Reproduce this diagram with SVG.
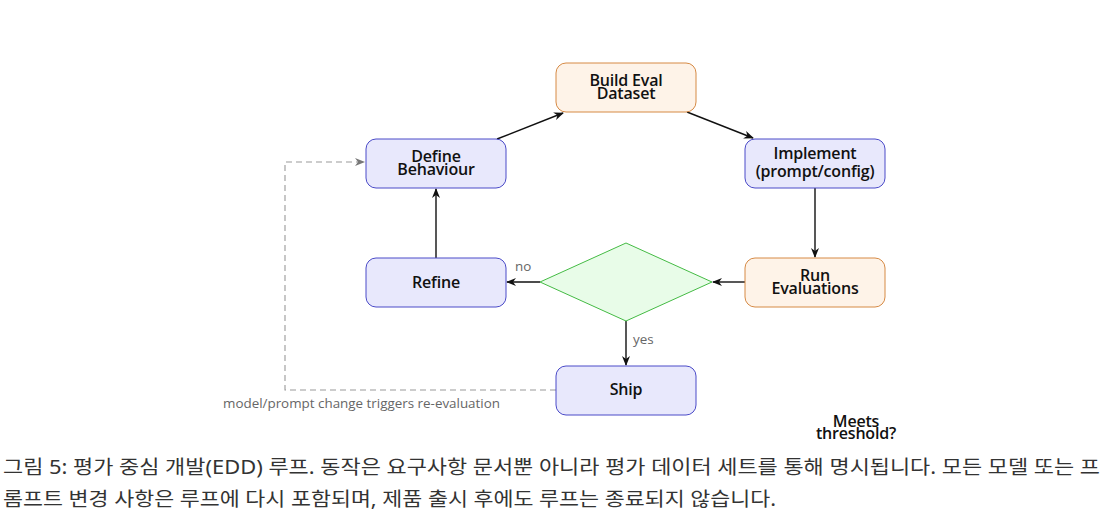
<svg xmlns="http://www.w3.org/2000/svg" width="1107" height="518" viewBox="0 0 1107 518">
<defs>
<style>
.blue{fill:#e8e8fc;stroke:#4a4ac8;stroke-width:1}
.orange{fill:#fef3e8;stroke:#d68a45;stroke-width:1}
.lbl{font-family:"Open Sans","Noto Sans",sans-serif;font-size:16px;font-weight:600;fill:#111;text-anchor:middle;letter-spacing:-0.2px}
.edge{stroke:#111;stroke-width:1.4;fill:none;marker-end:url(#arr)}
.elbl{font-family:"Open Sans","Noto Sans",sans-serif;font-size:13.4px;fill:#666}
.cap{font-family:"Noto Sans","Noto Sans CJK KR",sans-serif;font-size:19.5px;fill:#333}
</style>
<marker id="arr" markerWidth="10" markerHeight="8" refX="9" refY="4" orient="auto" markerUnits="userSpaceOnUse">
<path d="M0,0 L10,4 L0,8 L3,4 z" fill="#111"/>
</marker>
<marker id="arrg" markerWidth="10" markerHeight="8" refX="9" refY="4" orient="auto" markerUnits="userSpaceOnUse">
<path d="M0,0 L10,4 L0,8 L3,4 z" fill="#777"/>
</marker>
</defs>
<rect width="1107" height="518" fill="#fff"/>
<g id="connectors">
<path class="edge" d="M497,139 L563,113"/>
<path class="edge" d="M687,112 L753,138"/>
<path class="edge" d="M815,188 L815,257"/>
<path class="edge" d="M745,282 L713,282"/>
<path class="edge" d="M540,282 L507,282"/>
<path class="edge" d="M436,258 L436,189"/>
<path class="edge" d="M626,321 L626,365"/>
<path d="M556,390 L285,390 L285,162 L364,162" fill="none" stroke="#999" stroke-width="1.1" stroke-dasharray="6,4" marker-end="url(#arrg)"/>
<text class="elbl" x="515" y="271">no</text>
<text class="elbl" x="633" y="344">yes</text>
<text class="elbl" x="223" y="408">model/prompt change triggers re-evaluation</text>
</g>
<g id="build">
<rect class="orange" x="556" y="63" width="140" height="49" rx="10"/>
<text class="lbl" x="626" y="86">Build Eval</text>
<text class="lbl" x="626" y="99">Dataset</text>
</g>
<g id="define">
<rect class="blue" x="366" y="139" width="140" height="49" rx="10"/>
<text class="lbl" x="436" y="162">Define</text>
<text class="lbl" x="436" y="175">Behaviour</text>
</g>
<g id="implement">
<rect class="blue" x="745" y="139" width="140" height="49" rx="10"/>
<text class="lbl" x="815" y="159">Implement</text>
<text class="lbl" x="815" y="177">(prompt/config)</text>
</g>
<g id="refine">
<rect class="blue" x="366" y="258" width="140" height="49" rx="10"/>
<text class="lbl" x="436" y="288">Refine</text>
</g>
<g id="run">
<rect class="orange" x="745" y="258" width="140" height="49" rx="10"/>
<text class="lbl" x="815" y="281">Run</text>
<text class="lbl" x="815" y="294">Evaluations</text>
</g>
<g id="decision">
<polygon points="626,243 712,282 626,321 540,282" fill="#e8fce8" stroke="#44bb44" stroke-width="1"/>
<text class="lbl" x="856" y="427">Meets</text>
<text class="lbl" x="856" y="439">threshold?</text>
</g>
<g id="ship">
<rect class="blue" x="556" y="366" width="140" height="49" rx="10"/>
<text class="lbl" x="626" y="395">Ship</text>
</g>
<g id="caption">
<text class="cap" x="3" y="474" textLength="1097" lengthAdjust="spacingAndGlyphs">그림 5: 평가 중심 개발(EDD) 루프. 동작은 요구사항 문서뿐 아니라 평가 데이터 세트를 통해 명시됩니다. 모든 모델 또는 프</text>
<text class="cap" x="3" y="506" textLength="773" lengthAdjust="spacingAndGlyphs">롬프트 변경 사항은 루프에 다시 포함되며, 제품 출시 후에도 루프는 종료되지 않습니다.</text>
</g>
</svg>
